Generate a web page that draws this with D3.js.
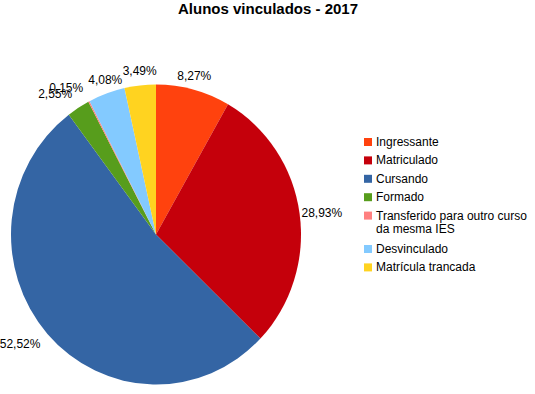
<!DOCTYPE html>
<html>
<head>
<meta charset="utf-8">
<script src="https://cdn.jsdelivr.net/npm/d3@7"></script>
<style>
  body { margin: 0; background: #fff; }
  text { font-family: "Liberation Sans", Arial, sans-serif; }
</style>
</head>
<body>
<div class="chart"></div>
<script>
const categories = ["Ingressante", "Matriculado", "Cursando", "Formado",
    "Transferido para outro curso da mesma IES", "Desvinculado", "Matrícula trancada"];
const percents = [8.27, 28.93, 52.52, 2.55, 0.15, 4.08, 3.49];
const colors = ["#ff420e", "#c5000b", "#3465a4", "#579d1c", "#ff8080", "#83caff", "#ffd320"];
const title = "Alunos vinculados - 2017";

const width = 535, height = 394;
// pie is drawn slightly taller than wide, like the source picture
const cx = 156, cy = 234.5, rx = 145, ry = 150;

const svg = d3.select(".chart").append("svg")
    .attr("width", width)
    .attr("height", height);

svg.append("text")
    .attr("x", 268)
    .attr("y", 14)
    .attr("text-anchor", "middle")
    .style("font-size", "15px")
    .style("font-weight", "bold")
    .text(title);

const data = categories.map((c, i) => ({name: c, value: percents[i], color: colors[i]}));

const pie = d3.pie().sort(null).value(d => d.value);
const arc = d3.arc().innerRadius(0).outerRadius(rx);
const arcs = pie(data);

svg.append("g")
    .attr("transform", `translate(${cx},${cy}) scale(1,${ry / rx})`)
    .selectAll("path.slice")
    .data(arcs)
    .enter().append("path")
    .attr("class", "slice")
    .attr("fill", d => d.data.color)
    .attr("d", arc);

// labels: put the nearest box side/corner next to the rim
const fmt = v => v.toFixed(2).replace(".", ",") + "%";
svg.append("g")
    .attr("transform", `translate(${cx},${cy})`)
    .selectAll("text.lbl")
    .data(arcs)
    .enter().append("text")
    .attr("class", "lbl")
    .style("font-size", "12px")
    .each(function(d) {
        const a = (d.startAngle + d.endAngle) / 2;
        const s = Math.sin(a), c = Math.cos(a);
        const px = (rx + 4) * s, py = -(ry + 4) * c;
        let anchor = "middle", x = px;
        if (s > 0.4) { anchor = "start"; x = px - 2; }
        else if (s < -0.4) { anchor = "end"; x = px - 4; }
        let y = py + 4;
        if (c > 0.4) y = py - 6;
        else if (c < -0.4) y = py + 11;
        d3.select(this)
            .attr("x", x).attr("y", y)
            .attr("text-anchor", anchor)
            .text(fmt(d.data.value));
    });

// legend
const legend = svg.append("g").attr("transform", "translate(364,0)");
let ly = 142;
data.forEach(d => {
    const item = legend.append("g");
    item.append("rect")
        .attr("x", 0).attr("y", ly - 4)
        .attr("width", 8).attr("height", 8)
        .attr("fill", d.color);
    const t = item.append("text")
        .attr("x", 12).attr("y", ly + 4)
        .style("font-size", "12px");
    // wrap long names
    const words = d.name.split(" ");
    let line = [], lines = 0;
    let tspan = t.append("tspan").attr("x", 12).attr("dy", 0);
    words.forEach(w => {
        line.push(w);
        tspan.text(line.join(" "));
        if (tspan.node().getComputedTextLength() > 158 && line.length > 1) {
            line.pop();
            tspan.text(line.join(" "));
            line = [w];
            lines++;
            tspan = t.append("tspan").attr("x", 12).attr("dy", 13.5).text(w);
        }
    });
    ly += 18.4 + lines * 15;
});
</script>
</body>
</html>
